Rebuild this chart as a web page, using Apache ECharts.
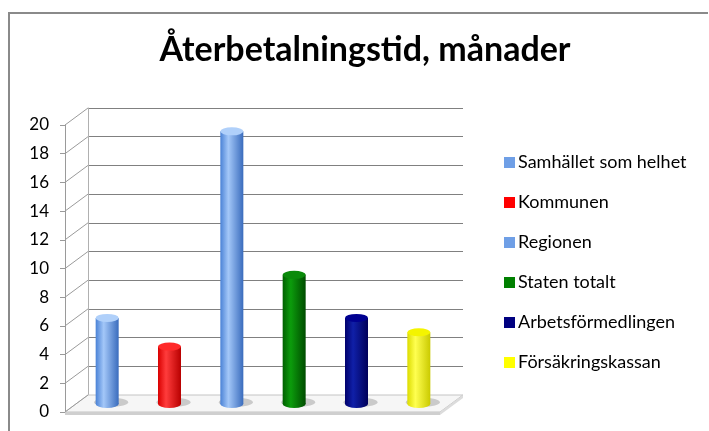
<!DOCTYPE html>
<html>
<head>
<meta charset="utf-8">
<script src="https://cdn.jsdelivr.net/npm/echarts@6/dist/echarts.min.js"></script>
<style>
  html, body { margin: 0; padding: 0; background: #fff; }
  #chart { width: 709px; height: 431px; }
</style>
</head>
<body>
<div id="chart"></div>
<script>
// data
const categories = ['Samhället som helhet', 'Kommunen', 'Regionen', 'Staten totalt', 'Arbetsförmedlingen', 'Försäkringskassan'];
const values = [6, 4, 19, 9, 6, 5];
const yTicks = [0, 2, 4, 6, 8, 10, 12, 14, 16, 18, 20];

// cylinder colours: [edge left, highlight, edge right, top, legend]
const palette = [
  ['#4a82d6', '#a3c7f8', '#3a6cbd', '#b0d0fa', '#6f9fe6'],
  ['#d80000', '#ff3c3c', '#b80000', '#ff2a2a', '#ff0000'],
  ['#4a82d6', '#a3c7f8', '#3a6cbd', '#b0d0fa', '#6f9fe6'],
  ['#006000', '#0c9c0c', '#004c00', '#0a8a0a', '#008000'],
  ['#00006c', '#1020a8', '#00005a', '#000090', '#000080'],
  ['#dcdc00', '#ffff50', '#caca00', '#f4f400', '#ffff00']
];

function cyl(c) {
  return new echarts.graphic.LinearGradient(0, 0, 1, 0, [
    { offset: 0, color: c[0] },
    { offset: 0.35, color: c[1] },
    { offset: 1, color: c[2] }
  ]);
}

const DX = 23, DY = -17;
const FONT = 'Lato';

const chart = echarts.init(document.getElementById('chart'));

const barSeries = categories.map((name, i) => ({
  name: name,
  type: 'bar',
  xAxisIndex: 2,
  yAxisIndex: 2,
  barWidth: 23,
  barGap: '-100%',
  z: 5,
  data: values.map((v, j) => (j === i ? v : null)),
  itemStyle: { color: cyl(palette[i]) }
}));

chart.setOption({
  animation: false,
  title: {
    text: 'Återbetalningstid, månader',
    left: 360,
    textAlign: 'center',
    top: 28,
    textStyle: { fontFamily: FONT, fontWeight: 'bold', fontSize: 34, color: '#000' }
  },
  legend: {
    orient: 'vertical',
    left: 504,
    top: 153,
    padding: 0,
    itemWidth: 11,
    itemHeight: 11,
    itemGap: 21,
    icon: 'rect',
    data: categories.map((name, i) => ({ name: name, itemStyle: { color: palette[i][4] } })),
    textStyle: { fontFamily: FONT, fontSize: 18, color: '#000', lineHeight: 19, padding: [0, 0, 0, -2] }
  },
  graphic: [{
    type: 'polyline',
    shape: { points: [[9, 431], [9, 13], [708, 13]] },
    style: { stroke: '#8a8a8a', lineWidth: 2, fill: null },
    silent: true
  }],
  grid: [
    { left: 88, right: 246, top: 108, bottom: 36 },
    { left: 65, right: 269, top: 125, bottom: 19 },
    { left: 76, right: 259, top: 117, bottom: 27 }
  ],
  xAxis: [
    { gridIndex: 0, type: 'value', min: 0, max: 1, show: false },
    { gridIndex: 1, type: 'value', min: 0, max: 1, show: false },
    { gridIndex: 2, type: 'category', data: categories, show: false }
  ],
  yAxis: [
    {
      gridIndex: 0, type: 'value', min: 0, max: 20, interval: 2,
      axisLine: { show: true, lineStyle: { color: '#b0b0b0' } },
      axisTick: { show: false }, axisLabel: { show: false },
      splitLine: { lineStyle: { color: '#808080', width: 1 } }
    },
    {
      gridIndex: 1, type: 'value', min: 0, max: 20, interval: 2,
      axisLine: { show: true, lineStyle: { color: '#9a9a9a' } },
      axisTick: { show: true, length: 5, lineStyle: { color: '#9a9a9a' } },
      axisLabel: { margin: 16, fontFamily: FONT, fontSize: 17, color: '#000' },
      splitLine: { show: false }
    },
    { gridIndex: 2, type: 'value', min: 0, max: 20, show: false }
  ],
  series: [
    {
      // side wall and floor drawn from the front axis scale
      type: 'custom',
      xAxisIndex: 1,
      yAxisIndex: 1,
      silent: true,
      z: 1,
      data: yTicks,
      renderItem: function (params, api) {
        const v = api.value(0);
        const p = api.coord([0, v]);
        const children = [{
          type: 'line',
          shape: { x1: p[0], y1: p[1], x2: p[0] + DX, y2: p[1] + DY },
          style: { stroke: '#9a9a9a', lineWidth: 1 }
        }];
        if (v === 0) {
          const r = api.coord([1, 0]);
          children.unshift({
            type: 'polygon',
            shape: { points: [[p[0], p[1]], [r[0], r[1]], [r[0] + DX, r[1] + DY], [p[0] + DX, p[1] + DY]] },
            style: { fill: '#f6f6f6', stroke: '#c4c4c4', lineWidth: 1 }
          }, {
            type: 'polygon',
            shape: { points: [[p[0], p[1]], [r[0], r[1]], [r[0], r[1] + 3], [p[0], p[1] + 3]] },
            style: { fill: '#cfcfcf' }
          }, {
            type: 'polygon',
            shape: { points: [[r[0], r[1]], [r[0] + DX, r[1] + DY], [r[0] + DX, r[1] + DY + 3], [r[0], r[1] + 3]] },
            style: { fill: '#dcdcdc' }
          });
        }
        return { type: 'group', children: children };
      }
    },
    // bar shadows on the floor
    {
      type: 'pictorialBar',
      xAxisIndex: 2,
      yAxisIndex: 2,
      silent: true,
      z: 3,
      symbol: 'circle',
      symbolSize: [34, 9],
      symbolPosition: 'start',
      symbolOffset: [4, '30%'],
      data: values.map(() => ({ value: 0 })),
      itemStyle: { color: 'rgba(120,120,120,0.35)' }
    },
    ...barSeries,
    // cylinder bottoms
    {
      type: 'pictorialBar',
      xAxisIndex: 2,
      yAxisIndex: 2,
      silent: true,
      z: 4,
      symbol: 'circle',
      symbolSize: [23, 8],
      symbolPosition: 'start',
      symbolOffset: [0, '50%'],
      data: values.map((v, i) => ({ value: 0, itemStyle: { color: cyl(palette[i]) } }))
    },
    // cylinder tops
    {
      type: 'pictorialBar',
      xAxisIndex: 2,
      yAxisIndex: 2,
      silent: true,
      z: 6,
      symbol: 'circle',
      symbolSize: [23, 8],
      symbolPosition: 'end',
      symbolOffset: [0, '-50%'],
      data: values.map((v, i) => ({ value: v, itemStyle: { color: palette[i][3] } }))
    }
  ]
});
</script>
</body>
</html>
